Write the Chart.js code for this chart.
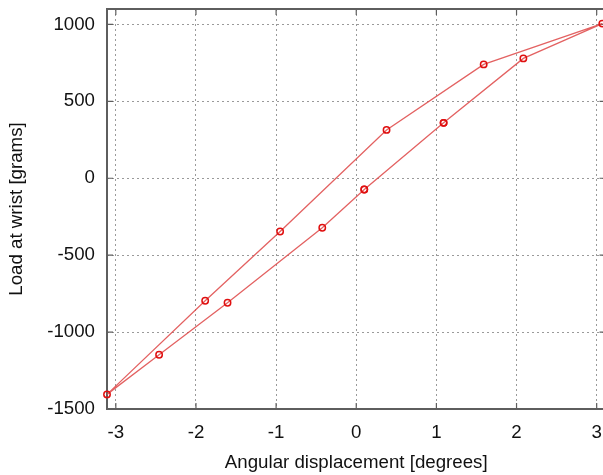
<!DOCTYPE html>
<html><head><meta charset="utf-8">
<script src="https://cdn.jsdelivr.net/npm/chart.js@4.4.0/dist/chart.umd.min.js"></script>
<style>html,body{margin:0;padding:0;overflow:hidden;background:#fff}canvas{display:block}</style>
</head><body>
<canvas id="c" width="611" height="475"></canvas>
<script>
// Hysteresis loop, in measurement order
const angle = [0.10, 1.09, 2.085, 3.07, 1.59, 0.378, -0.95, -1.885, -3.11, -2.46, -1.606, -0.424, 0.10, 1.09];
const load  = [-73, 360, 779, 1005, 740, 314, -346, -796, -1405, -1147, -809, -322, -73, 360];
const xTicks = [-3, -2, -1, 0, 1, 2, 3];
const yTicks = [-1500, -1000, -500, 0, 500, 1000];
const xTitle = 'Angular displacement [degrees]';
const yTitle = 'Load at wrist [grams]';

const points = angle.map((a, i) => ({x: a, y: load[i]}));
const FONT = 'Liberation Sans, Arial, sans-serif';
const FS = 18.7;

const frame = {
  id: 'frame',
  beforeDatasetsDraw(chart) {
    const {ctx, chartArea: a, scales: {x, y}} = chart;
    ctx.save();
    ctx.strokeStyle = '#5e5e5e';
    ctx.lineWidth = 1.2;
    const L = 6;
    ctx.beginPath();
    xTicks.forEach(v => {
      const px = x.getPixelForValue(v);
      ctx.moveTo(px, a.top); ctx.lineTo(px, a.top + L);
      ctx.moveTo(px, a.bottom); ctx.lineTo(px, a.bottom - L);
    });
    yTicks.forEach(v => {
      const py = y.getPixelForValue(v);
      ctx.moveTo(a.left, py); ctx.lineTo(a.left + L, py);
      ctx.moveTo(a.right, py); ctx.lineTo(a.right - L, py);
    });
    ctx.stroke();
    ctx.lineWidth = 2;
    ctx.strokeRect(a.left, a.top, a.right - a.left, a.bottom - a.top);
    ctx.restore();
  }
};

new Chart(document.getElementById('c'), {
  type: 'scatter',
  data: {
    datasets: [{
      data: points,
      showLine: true,
      borderColor: 'rgba(222,70,70,0.85)',
      borderWidth: 1.3,
      pointStyle: 'circle',
      pointRadius: 3.2,
      pointBorderWidth: 1.5,
      pointBorderColor: '#e01010',
      pointBackgroundColor: 'rgba(255,255,255,0)',
      clip: 8,
      tension: 0
    }]
  },
  options: {
    responsive: false,
    animation: false,
    events: [],
    layout: {padding: {top: 9, left: 0, right: 0, bottom: 0}},
    plugins: {legend: {display: false}, tooltip: {enabled: false}},
    scales: {
      x: {
        type: 'linear', min: -3.11, max: 3.11,
        afterFit: s => { s.height = 66; s.paddingLeft = 0; s.paddingRight = 0; },
        afterBuildTicks: s => { s.ticks = xTicks.map(v => ({value: v})); },
        grid: {color: '#9a9a9a', lineWidth: 1, drawTicks: false},
        border: {display: false, dash: [2, 3]},
        ticks: {padding: 13, color: '#111', font: {family: FONT, size: FS}, callback: v => String(v), maxRotation: 0},
        title: {display: true, text: xTitle, color: '#111', font: {family: FONT, size: FS}, padding: {top: 0, bottom: 1}}
      },
      y: {
        type: 'linear', min: -1500, max: 1100,
        afterFit: s => { s.width = 107; s.paddingTop = 0; s.paddingBottom = 0; },
        afterBuildTicks: s => { s.ticks = yTicks.map(v => ({value: v})); },
        grid: {color: '#9a9a9a', lineWidth: 1, drawTicks: false},
        border: {display: false, dash: [2, 3]},
        ticks: {padding: 12, color: '#111', font: {family: FONT, size: FS}, callback: v => String(v)},
        title: {display: true, text: yTitle, color: '#111', font: {family: FONT, size: FS}, padding: {top: 6, bottom: 0}}
      }
    }
  },
  plugins: [frame]
});
</script>
</body></html>
